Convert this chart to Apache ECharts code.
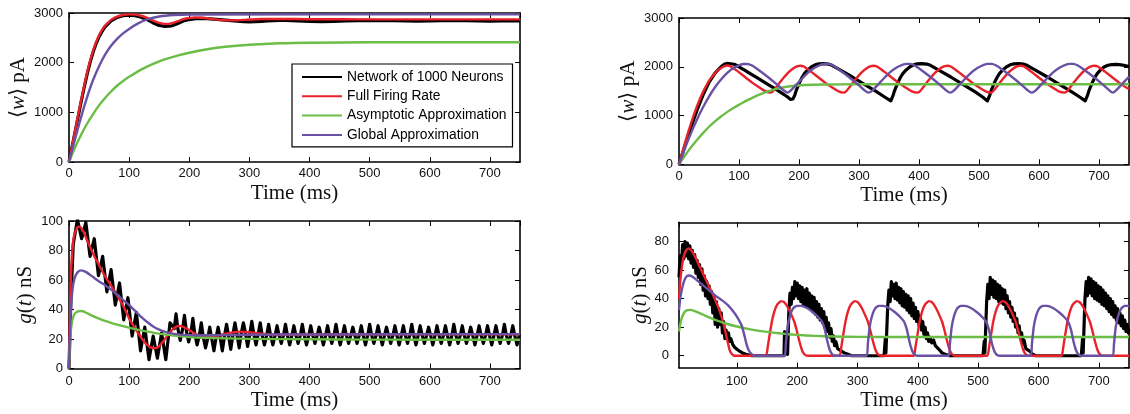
<!DOCTYPE html>
<html><head><meta charset="utf-8">
<script src="https://cdn.jsdelivr.net/npm/echarts@6/dist/echarts.min.js"></script>
<style>html,body{margin:0;padding:0;background:#fff}#c{width:1130px;height:414px}</style>
</head><body><div id="c"></div><script>
// ---------- names / ticks ----------
const seriesNames = ['Network of 1000 Neurons','Full Firing Rate','Asymptotic Approximation','Global Approximation'];
const xTitle = 'Time (ms)';

// ---------- top-left: <w> (pA), network 1 ----------
const tlNet = [[0,0],[5,300],[10,600],[15,900],[20,1200],[25,1490],[30,1760],[35,2000],[40,2210],[45,2380],[50,2520],[55,2630],[60,2720],[70,2840],[80,2910],[90,2945],[100,2955],[110,2945],[120,2915],[130,2865],[140,2800],[150,2750],[160,2728],[170,2738],[180,2785],[190,2838],[200,2868],[210,2885],[220,2890],[230,2885],[240,2878],[250,2868],[260,2858],[270,2845],[280,2835],[290,2826],[300,2822],[310,2826],[320,2832],[330,2840],[340,2848],[350,2852],[360,2850],[370,2846],[380,2840],[390,2834],[400,2830],[420,2828],[440,2832],[460,2840],[480,2846],[500,2850],[520,2848],[540,2844],[560,2840],[580,2838],[600,2840],[620,2844],[640,2846],[660,2844],[680,2840],[700,2838],[720,2840],[750,2842]];
const tlFull = [[0,0],[5,310],[10,620],[15,930],[20,1230],[25,1520],[30,1790],[35,2030],[40,2240],[45,2410],[50,2550],[55,2660],[60,2745],[70,2862],[80,2928],[90,2960],[100,2972],[110,2968],[120,2945],[130,2900],[140,2845],[150,2800],[160,2778],[170,2790],[180,2830],[190,2875],[200,2900],[210,2910],[220,2905],[235,2885],[250,2862],[265,2852],[280,2855],[300,2868],[320,2878],[350,2880],[400,2875],[500,2872],[750,2872]];
const tlAsym = [[0,0],[10,290],[20,545],[30,770],[40,965],[50,1140],[60,1290],[70,1420],[80,1535],[90,1630],[100,1715],[120,1860],[140,1975],[160,2070],[180,2140],[200,2200],[230,2270],[260,2320],[300,2360],[350,2390],[400,2402],[500,2410],[750,2412]];
const tlGlob = [[0,0],[10,460],[20,900],[30,1300],[40,1650],[50,1930],[60,2160],[70,2340],[80,2480],[90,2590],[100,2680],[115,2790],[130,2870],[150,2930],[175,2960],[200,2970],[750,2972]];

// ---------- bottom-left: g(t) (nS), network 1 ----------
const blNet = [[0,0],[3,45],[7,84],[14,101],[21,88],[28,99],[35,76],[42,88],[49,63],[56,76],[63,52],[70,67],[77,43],[84,58],[91,33],[98,48],[105,22],[112,38],[119,12],[126,28],[133,6],[140,22],[147,7],[154,24],[161,6],[168,31],
 [175,27],[178,37],[181,27],[185,19],[189,27],[192,36],[195,26],[199,18],[203,25],[206,34],[209,24],[213,16],[217,23],[220,31],[223,22],[227,14],
 [231,21],[234,28],[237,21],[241,12],[245,22],[248,28],[251,22],[255,12],[259,23],[262,30],[265,23],[269,13],[273,24],[276,31],[279,24],[283,14],
 [287,25],[290,31],[293,25],[297,15],[301,24],[304,32],[307,24],[311,16],[315,24],[318,31],[321,23],[325,16],[329,23],[332,30],[335,23],[339,16],
 [343,23],[346,29],[349,23],[353,17],[357,23],[360,30],[363,23],[367,16],[371,23],[374,29],[377,23],[381,17],[385,23],[388,30],[391,23],[395,16],
 [399,23],[402,29],[405,23],[409,17],[413,23],[416,28],[419,23],[423,16],[427,23],[430,29],[433,23],[437,17],[441,23],[444,30],[447,23],[451,16],
 [455,23],[458,29],[461,23],[465,17],[469,23],[472,28],[475,23],[479,17],[483,23],[486,29],[489,23],[493,16],[497,23],[500,30],[503,23],[507,17],
 [511,23],[514,29],[517,23],[521,16],[525,23],[528,28],[531,23],[535,17],[539,23],[542,29],[545,23],[549,16],[553,23],[556,29],[559,23],[563,17],
 [567,23],[570,30],[573,23],[577,16],[581,23],[584,29],[587,23],[591,17],[595,23],[598,28],[601,23],[605,16],[609,23],[612,29],[615,23],[619,17],
 [623,23],[626,29],[629,23],[633,16],[637,23],[640,30],[643,23],[647,17],[651,23],[654,29],[657,23],[661,17],[665,23],[668,28],[671,23],[675,16],
 [679,23],[682,29],[685,23],[689,17],[693,23],[696,29],[699,23],[703,16],[707,23],[710,29],[713,23],[717,17],[721,23],[724,30],[727,23],[731,17],
 [735,23],[738,29],[741,23],[745,16],[749,23]];
const blFull = [[0,0],[2,45],[4,70],[6,82],[8,89],[11,93.5],[14,95.8],[17,96.2],[20,95.5],[25,92],[30,87],[40,78],[50,70],[60,62.5],[72,55],[80,49.5],[90,42.5],[100,34],[110,27],[120,21],[130,16],[140,13.8],[148,14.5],[155,17.5],[165,23],[175,27.5],[183,28.9],[190,28.2],[200,26],[215,22.5],[230,21.3],[250,22.5],[270,24.3],[285,25],[300,24.6],[320,23.6],[350,22.8],[380,22.9],[420,23.2],[500,23.2],[750,23.2]];
const blAsym = [[0,0],[2,20],[4,29],[6,33.5],[8,36],[11,37.8],[15,38.8],[20,39],[25,38.5],[30,37.5],[40,35.5],[50,33.8],[60,32.3],[70,31],[80,29.8],[90,28.7],[100,27.7],[120,25.8],[140,24.3],[160,23],[180,22.1],[200,21.4],[230,20.8],[260,20.4],[300,20.1],[400,19.8],[500,19.6],[750,19.5]];
const blGlob = [[0,0],[2,30],[4,45],[6,54],[8,59],[11,63],[15,65.5],[20,66.5],[25,66],[30,65],[40,62],[50,59],[60,56.5],[70,53.5],[80,50],[90,46.5],[100,43],[110,39],[120,35],[130,31.5],[140,28.5],[150,26.3],[160,24.8],[175,23.5],[190,22.8],[210,22.5],[250,22.6],[300,22.9],[400,23.1],[750,23.3]];

// ---------- top-right: <w> (pA), network 2 ----------
const trNet = [[0,0],[10,380],[20,760],[30,1110],[40,1420],[50,1680],[60,1870],[70,2000],[76,2055],[80,2068],[86,2062],[92,2052],[100,2000],[110,1925],[120,1850],[130,1775],[140,1700],[150,1625],[160,1550],[170,1470],[180,1390],[186,1330],[189,1300],
 [190,1340],[191,1310],[193,1420],[195,1500],[197,1560],[201,1680],[205,1780],[209,1860],[215,1940],[221,2000],[227,2040],[233,2060],[241,2065],[249,2055],[255,2030],[269,1930],[289,1790],[309,1640],[329,1490],[344,1370],[353,1300],
 [354,1340],[355,1310],[357,1420],[359,1500],[361,1560],[365,1680],[369,1780],[373,1860],[379,1940],[385,2000],[391,2040],[397,2060],[405,2065],[413,2055],[419,2030],[433,1930],[453,1790],[473,1640],[493,1490],[506,1380],[514,1300],
 [515,1340],[516,1310],[518,1420],[520,1500],[522,1560],[526,1680],[530,1780],[534,1860],[540,1940],[546,2000],[552,2040],[558,2060],[566,2065],[574,2055],[580,2030],[594,1930],[614,1790],[634,1640],[654,1490],[669,1370],[677,1300],
 [678,1340],[679,1310],[681,1420],[683,1500],[685,1560],[689,1680],[693,1780],[697,1860],[703,1940],[709,2000],[715,2030],[721,2045],[729,2050],[737,2040],[743,2025],[750,2005]];
const trFull = [[0,0],[10,440],[20,840],[30,1190],[40,1480],[50,1710],[60,1870],[70,1975],[76,2015],[80,2025],[86,2008],[98,1905],[110,1790],[122,1675],[134,1575],[144,1500],[152,1470],
 [156,1490],[162,1580],[172,1740],[182,1880],[192,1980],[198,2015],[202,2022],[208,2005],[220,1900],[232,1785],[244,1670],[256,1570],[266,1495],[274,1470],
 [278,1490],[284,1580],[294,1740],[304,1880],[314,1980],[320,2015],[324,2022],[330,2005],[342,1900],[354,1785],[366,1670],[378,1570],[388,1495],[397,1470],
 [401,1490],[407,1580],[417,1740],[427,1880],[437,1980],[443,2015],[447,2022],[453,2005],[465,1900],[477,1785],[489,1670],[501,1570],[511,1495],[519,1470],
 [523,1490],[529,1580],[539,1740],[549,1880],[559,1980],[565,2015],[569,2022],[575,2005],[587,1900],[599,1785],[611,1670],[623,1570],[633,1495],[642,1470],
 [646,1490],[652,1580],[662,1740],[672,1880],[682,1980],[688,2015],[692,2022],[698,2005],[710,1900],[722,1785],[734,1670],[746,1570],[750,1545]];
const trAsym = [[0,0],[10,180],[20,350],[30,500],[40,640],[50,770],[60,880],[70,980],[80,1070],[90,1150],[100,1220],[115,1320],[130,1410],[145,1480],[160,1540],[175,1580],[190,1605],[210,1625],[240,1636],[300,1640],[750,1640]];
const trGlob = [[0,0],[10,330],[20,640],[30,920],[40,1170],[50,1390],[60,1580],[70,1740],[80,1870],[90,1970],[100,2030],[108,2058],[114,2058],[121,2030],[131,1950],[146,1810],[161,1660],[173,1530],[181,1470],
 [186,1510],[196,1640],[206,1770],[216,1890],[226,1980],[236,2040],[243,2060],[249,2060],[256,2030],[266,1950],[281,1810],[296,1660],[308,1530],[316,1470],
 [322,1510],[332,1640],[342,1770],[352,1890],[362,1980],[372,2040],[379,2060],[385,2060],[392,2030],[402,1950],[417,1810],[432,1660],[444,1530],[452,1470],
 [458,1510],[468,1640],[478,1770],[488,1890],[498,1980],[508,2040],[515,2060],[521,2060],[528,2030],[538,1950],[553,1810],[568,1660],[580,1530],[588,1470],
 [594,1510],[604,1640],[614,1770],[624,1890],[634,1980],[644,2040],[651,2060],[657,2060],[664,2030],[674,1950],[689,1810],[704,1660],[716,1530],[723,1470],
 [728,1510],[738,1640],[748,1770],[750,1795]];

// ---------- bottom-right: g(t) (nS), network 2 ----------
const brNet = [[4,55],[6,70],[8,64],[10,78],[12,68],[14,80],[16,70],[18,79],[20,68],[22,77],[24,65],[26,74],[28,62],[30,71],[32,58],[34,67],[36,55],[38,64],[40,50],[42,61],[44,46],[46,56],[48,42],[50,52],[52,40],[54,49],[56,36],[58,45],[60,30],[62,42],[64,22],[66,38],[68,20],[70,33],[72,22],[74,30],[76,16],[78,24],[80,12],[82,18],[84,12],[86,16],[88,10],[90,12],[93,8],[96,6],[100,4.5],[105,3],[110,1.8],[115,1],[120,0.4],[125,0],
 [178,0],[179,17],[180,2],[184,1],[186,30],[188,44],[190,36],[192,48],[194,40],[196,52],[198,42],[200,51],[202,40],[204,49],[206,38],[208,48],[210,36],[212,46],[214,35],[216,47],[218,34],[220,44],[222,33],[224,42],[226,31],[228,41],[230,29],[232,38],[234,27],[236,36],[238,25],[240,33],[242,23],[244,31],[246,20],[248,27],[250,17],[252,23],[254,13],[256,19],[258,10],[260,14],[262,7],[264,10],[267,5],[270,6],[274,3],[278,2],[284,1],[290,0],
 [344,0],[346,12],[347,2],[349,1],[350,35],[352,46],[354,38],[356,52],[358,42],[360,50],[362,40],[364,51],[366,39],[368,48],[370,37],[372,47],[374,35],[376,45],[378,34],[380,43],[382,32],[384,42],[386,30],[388,40],[390,28],[392,37],[394,26],[396,34],[398,24],[400,31],[402,21],[404,28],[406,18],[408,24],[410,15],[412,20],[414,12],[416,16],[418,10],[420,13],[423,9],[426,11],[429,7],[432,8],[436,4],[440,2],[445,1],[452,0],
 [508,0],[510,10],[511,2],[513,1],[514,38],[516,50],[518,40],[520,55],[522,43],[524,53],[526,41],[528,52],[530,40],[532,50],[534,38],[536,49],[538,37],[540,47],[542,36],[544,46],[546,33],[548,42],[550,30],[552,38],[554,27],[556,34],[558,24],[560,30],[562,20],[564,26],[566,16],[568,21],[570,12],[572,16],[574,8],[576,11],[579,5],[582,6],[586,3],[590,1],[596,0],
 [671,0],[673,12],[674,2],[676,1],[677,40],[679,52],[681,42],[683,55],[685,44],[687,54],[689,42],[691,52],[693,40],[695,51],[697,39],[699,49],[701,38],[703,48],[705,36],[707,46],[709,35],[711,44],[713,33],[715,42],[717,31],[719,40],[721,29],[723,38],[725,27],[727,35],[729,25],[731,33],[733,23],[735,30],[737,21],[739,28],[741,19],[743,25],[745,17],[747,22],[749,16],[750,19]];
const brFull = [[4,40],[6,52],[9,63],[12,70],[16,74],[20,75.3],[25,73.5],[30,70],[40,61],[50,52],[60,43],[70,33],[78,22],[84,11],[88,4],[92,1],[96,0],
 [148,0],[151,6],[154,14],[158,24],[162,31],[167,36],[173,38.3],[179,37.3],[185,33.5],[190,29],[195,24],[199,18],[203,11],[207,5],[210,2],[214,0.3],[218,0],
 [270,0],[273,6],[276,14],[280,24],[284,31],[289,36],[295,38.3],[301,37.3],[307,33.5],[312,29],[317,24],[321,18],[325,11],[329,5],[332,2],[336,0.3],[340,0],
 [393,0],[396,6],[399,14],[403,24],[407,31],[412,36],[418,38.3],[424,37.3],[430,33.5],[435,29],[440,24],[444,18],[448,11],[452,5],[455,2],[459,0.3],[463,0],
 [515,0],[518,6],[521,14],[525,24],[529,31],[534,36],[540,38.3],[546,37.3],[552,33.5],[557,29],[562,24],[566,18],[570,11],[574,5],[577,2],[581,0.3],[585,0],
 [638,0],[641,6],[644,14],[648,24],[652,31],[657,36],[663,38.3],[669,37.3],[675,33.5],[680,29],[685,24],[689,18],[693,11],[697,5],[700,2],[704,0.3],[708,0],[750,0]];
const brAsym = [[4,17],[6,22],[9,27],[13,30.5],[18,32],[23,32.2],[30,31.3],[40,29.5],[50,27.6],[60,25.8],[70,24.2],[80,22.8],[100,20.5],[120,18.7],[140,17.3],[160,16.2],[180,15.3],[200,14.6],[230,13.9],[260,13.5],[300,13.2],[400,13.1],[750,13.1]];
const brGlob = [[4,32],[6,40],[9,47],[13,53],[17,55.8],[21,56.3],[26,55.5],[35,52.5],[45,49],[55,45.5],[65,42],[75,39],[85,35.5],[95,30.5],[102,26],[108,21],[112,15],[116,8],[120,3.5],[125,1],[130,0],
 [179,0],[181,8],[184,20],[188,28],[193,33],[199,35],[206,35],[216,33.5],[226,30.5],[235,27],[241,24],[246,18],[250,10],[254,4],[258,1],[263,0],
 [315,0],[317,8],[320,20],[324,28],[329,33],[335,35],[342,35],[352,33.5],[362,30.5],[371,27],[377,24],[382,18],[386,10],[390,4],[394,1],[399,0],
 [451,0],[453,8],[456,20],[460,28],[465,33],[471,35],[478,35],[488,33.5],[498,30.5],[507,27],[513,24],[518,18],[522,10],[526,4],[530,1],[535,0],
 [587,0],[589,8],[592,20],[596,28],[601,33],[607,35],[614,35],[624,33.5],[634,30.5],[643,27],[649,24],[654,18],[658,10],[662,4],[666,1],[671,0],
 [723,0],[725,8],[728,20],[732,28],[737,33],[743,35],[750,35]];

// ---------- styling ----------
const FT = '"Liberation Sans", Arial, Helvetica, sans-serif';
const FS = '"Liberation Serif", "Times New Roman", serif';
const colors = ['#000000', '#e8212a', '#6cbd45', '#6a51a3'];
const widths = [3.2, 2.4, 2.4, 2.4];

const grids = [
  {left: 69, top: 13, width: 451, height: 149},     // TL
  {left: 69, top: 221, width: 451, height: 147.5},  // BL
  {left: 679, top: 18, width: 450, height: 146.3},  // TR
  {left: 679, top: 222.3, width: 450, height: 145.4} // BR
];
const xCfg = [
  {min: 0, max: 750, interval: 100, showMin: true, margin: 5, gap: 21},
  {min: 0, max: 750, interval: 100, showMin: true, margin: 6.5, gap: 21.5},
  {min: 0, max: 750, interval: 100, showMin: true, margin: 6, gap: 21},
  {min: 4, max: 750, splitNumber: 7, showMin: false, margin: 7.5, gap: 22}
];
const wName = '{r|\u27E8}{i|w}{r|\u27E9 pA}';
const gName = '{i|g}{r|(}{i|t}{r|) nS}';
const yCfg = [
  {min: 0, max: 3000, interval: 1000, showMin: true, showMax: true, margin: 6, gap: 40, name: wName},
  {min: 0, max: 100, interval: 20, showMin: true, showMax: true, margin: 6, gap: 33.5, name: gName},
  {min: 0, max: 3000, interval: 1000, showMin: true, showMax: true, margin: 6, gap: 40, name: wName},
  {min: -8.4, max: 93.6, splitNumber: 5, showMin: false, showMax: false, margin: 10, gap: 24.5, name: gName}
];
const nameRich = {
  r: {fontFamily: FS, fontSize: 21, color: '#111'},
  i: {fontFamily: FS, fontSize: 21, fontStyle: 'italic', color: '#111'}
};
const lineAx = {show: true, onZero: false, lineStyle: {color: '#000', width: 1.6}};
const tickAx = {show: true, inside: true, length: 5, lineStyle: {color: '#000', width: 1}};
const plain = v => String(v);

const xAxis = [], yAxis = [];
grids.forEach((g, i) => {
  const c = xCfg[i];
  const xb = {gridIndex: i, type: 'value', min: c.min, max: c.max, splitLine: {show: false}, axisLine: lineAx, axisTick: tickAx};
  if (c.interval) xb.interval = c.interval; else xb.splitNumber = c.splitNumber;
  xAxis.push(Object.assign({}, xb, {position: 'bottom',
    axisLabel: {show: true, margin: c.margin, fontSize: 13, fontFamily: FT, color: '#111', showMinLabel: c.showMin, showMaxLabel: false, formatter: plain},
    name: xTitle, nameLocation: 'middle', nameGap: c.gap, nameTextStyle: {fontFamily: FS, fontSize: 21, color: '#111'}}));
  xAxis.push(Object.assign({}, xb, {position: 'top', axisLabel: {show: false}}));
  const d = yCfg[i];
  const yb = {gridIndex: i, type: 'value', min: d.min, max: d.max, splitLine: {show: false}, axisLine: lineAx, axisTick: tickAx};
  if (d.interval) yb.interval = d.interval; else yb.splitNumber = d.splitNumber;
  yAxis.push(Object.assign({}, yb, {position: 'left',
    axisLabel: {show: true, margin: d.margin, fontSize: 13, fontFamily: FT, color: '#111', showMinLabel: d.showMin, showMaxLabel: d.showMax, formatter: plain},
    name: d.name, nameLocation: 'middle', nameGap: d.gap, nameTextStyle: {fontFamily: FS, fontSize: 21, color: '#111', rich: nameRich}}));
  yAxis.push(Object.assign({}, yb, {position: 'right', axisLabel: {show: false}}));
});

const panels = [
  [tlNet, tlFull, tlAsym, tlGlob],
  [blNet, blFull, blAsym, blGlob],
  [trNet, trFull, trAsym, trGlob],
  [brNet, brFull, brAsym, brGlob]
];
const series = [];
panels.forEach((p, gi) => {
  p.forEach((data, k) => {
    series.push({
      type: 'line', name: seriesNames[k], data: data,
      xAxisIndex: 2 * gi, yAxisIndex: 2 * gi,
      symbol: 'none', showSymbol: false,
      smooth: k === 0 ? false : (gi === 3 ? 0.15 : 0.3),
      clip: true, z: 2 + k,
      lineStyle: {color: colors[k], width: widths[k], join: 'round'},
      itemStyle: {color: colors[k]},
      emphasis: {disabled: true}
    });
  });
});

const chart = echarts.init(document.getElementById('c'), null, {renderer: 'canvas'});
chart.setOption({
  animation: false,
  backgroundColor: '#ffffff',
  grid: grids.map(g => Object.assign({containLabel: false}, g)),
  xAxis: xAxis,
  yAxis: yAxis,
  legend: {
    data: seriesNames, orient: 'vertical', left: 292, top: 64,
    padding: [6, 6, 5, 9], itemGap: 5.3, itemWidth: 40, itemHeight: 14,
    backgroundColor: '#ffffff', borderColor: '#000', borderWidth: 1.2, borderRadius: 0,
    selectedMode: false,
    itemStyle: {opacity: 0, borderWidth: 0},
    textStyle: {fontFamily: FT, fontSize: 13.8, color: '#000'}
  },
  series: series
});
</script></body></html>
